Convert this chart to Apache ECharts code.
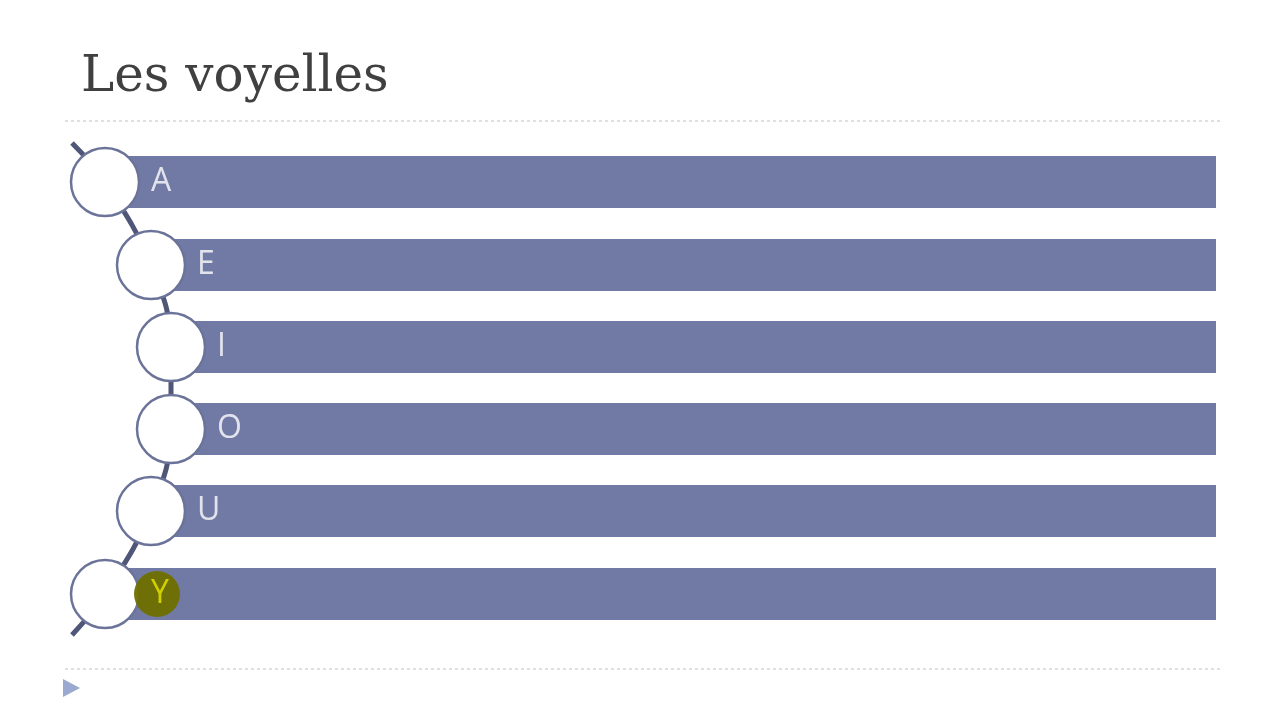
<!DOCTYPE html>
<html>
<head>
<meta charset="utf-8">
<script src="https://cdn.jsdelivr.net/npm/echarts@6/dist/echarts.min.js"></script>
<style>
html,body{margin:0;padding:0;background:#fff;}
#chart{width:1286px;height:720px;}
</style>
</head>
<body>
<div id="chart"></div>
<script>
// slide data
var letters = ['A', 'E', 'I', 'O', 'U', 'Y'];
var rowY = [182, 265, 347, 429, 511, 594];
var circleX = [105, 151, 171, 171, 151, 105];
var barEnd = [1216, 1216, 1216, 1216, 1216, 1216];
var curveX = [72, 105, 151, 171, 171, 151, 105, 72];
var curveY = [143, 182, 265, 347, 429, 511, 594, 635];

var chart = echarts.init(document.getElementById('chart'));

var barData = letters.map(function(l, i){
	return [circleX[i], rowY[i], barEnd[i], l];
});

var option = {
	animation: false,
	title: {
		text: 'Les voyelles',
		left: 76,
		top: 48,
		textStyle: {fontFamily: 'DejaVu Serif', fontWeight: 'normal', fontSize: 50, color: '#404040'}
	},
	grid: {left: 0, right: 0, top: 0, bottom: 0},
	xAxis: {type: 'value', min: 0, max: 1286, show: false},
	yAxis: {type: 'value', min: 0, max: 720, inverse: true, show: false},
	graphic: [
		{type: 'line', shape: {x1: 65, y1: 121, x2: 1222, y2: 121}, style: {stroke: '#bfbfbf', lineDash: [3, 3], lineWidth: 1}},
		{type: 'line', shape: {x1: 65, y1: 669, x2: 1222, y2: 669}, style: {stroke: '#bfbfbf', lineDash: [3, 3], lineWidth: 1}},
		{type: 'polygon', shape: {points: [[63, 679], [80, 688], [63, 697]]}, style: {fill: '#9aa9cf'}}
	],
	series: [
		{
			type: 'line',
			data: curveX.map(function(x, i){ return [x, curveY[i]]; }),
			smooth: 0.4,
			symbol: 'none',
			lineStyle: {color: '#4f5677', width: 5},
			z: 1
		},
		{
			type: 'custom',
			data: barData,
			renderItem: function(params, api){
				var p0 = api.coord([api.value(0), api.value(1)]);
				var p1 = api.coord([api.value(2), api.value(1)]);
				var h = 52;
				return {
					type: 'rect',
					shape: {x: p0[0], y: p0[1] - h / 2, width: p1[0] - p0[0], height: h},
					style: {fill: '#717aa4'}
				};
			},
			z: 2
		},
		{
			type: 'scatter',
			data: circleX.map(function(x, i){ return [x, rowY[i]]; }),
			symbolSize: 68,
			itemStyle: {color: '#fff', borderColor: '#6b7399', borderWidth: 2.5, opacity: 1},
			z: 3
		},
		{
			type: 'scatter',
			data: [[157, 594]],
			symbolSize: 46,
			itemStyle: {color: '#6f6f00', opacity: 0.95},
			z: 4
		},
		{
			type: 'scatter',
			data: letters.map(function(l, i){ return {value: [circleX[i] + 46, rowY[i]], name: l}; }),
			symbolSize: 0,
			label: {
				show: true,
				position: 'right',
				distance: 0,
				formatter: function(p){ return p.name; },
				fontFamily: 'Open Sans',
				fontSize: 32,
				color: '#fff',
				rich: {}
			},
			z: 5
		}
	]
};
option.series[4].data[5].label = {color: '#e8e800'};
chart.setOption(option);
</script>
</body>
</html>
